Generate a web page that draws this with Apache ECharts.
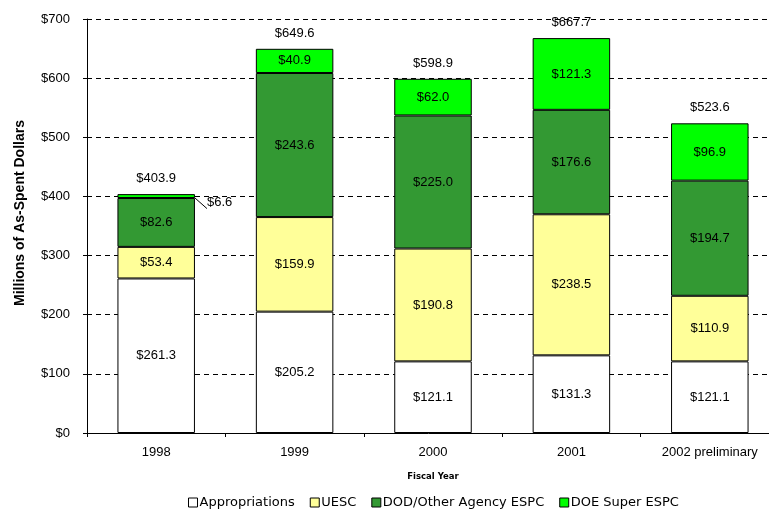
<!DOCTYPE html>
<html>
<head>
<meta charset="utf-8">
<script src="https://cdn.jsdelivr.net/npm/echarts@6/dist/echarts.min.js"></script>
<style>
  html, body { margin: 0; padding: 0; background: #fff; }
  #main { width: 769px; height: 517px; }
</style>
</head>
<body>
<div id="main"></div>
<script>
// 数据
var years = ['1998', '1999', '2000', '2001', '2002 preliminary'];
var appropriations = [261.3, 205.2, 121.1, 131.3, 121.1];
var uesc = [53.4, 159.9, 190.8, 238.5, 110.9];
var dodEspc = [82.6, 243.6, 225.0, 176.6, 194.7];
var doeSuperEspc = [6.6, 40.9, 62.0, 121.3, 96.9];
var totals = [403.9, 649.6, 598.9, 667.7, 523.6];

var font = 'Liberation Sans, Arial, sans-serif';
var wideFont = 'DejaVu Sans, Verdana, sans-serif';

function money(v) {
    return '$' + v.toFixed(1);
}

function segment(name, data, color) {
    return {
        name: name,
        type: 'bar',
        stack: 'all',
        barWidth: '56%',
        data: data,
        itemStyle: { color: color, borderColor: '#000', borderWidth: 1 },
        label: {
            show: true,
            position: 'inside',
            color: '#000',
            fontFamily: font,
            fontSize: 13,
            formatter: function (p) { return money(p.value); }
        }
    };
}

var doe = segment('DOE Super ESPC', doeSuperEspc, '#00ff00');
// 1998 的小段标签放在柱子右边
doe.data = doeSuperEspc.map(function (v, i) {
    if (i === 0) {
        return { value: v, label: { position: 'right', distance: 12, offset: [0, 6] } };
    }
    return v;
});
doe.labelLine = { show: true, length2: 0, lineStyle: { color: '#000', width: 1 } };

var myChart = echarts.init(document.getElementById('main'));
myChart.setOption({
    animation: false,
    grid: { left: 87, width: 692, top: 19, bottom: 84, outerBoundsMode: 'none', containLabel: false },
    legend: {
        bottom: 3,
        left: 183,
        data: ['Appropriations', 'UESC', 'DOD/Other Agency ESPC', 'DOE Super ESPC'],
        icon: 'rect',
        itemWidth: 9,
        itemHeight: 9,
        itemGap: 15,
        itemStyle: { borderColor: '#000', borderWidth: 1 },
        textStyle: { fontFamily: wideFont, fontSize: 13, color: '#000', padding: [0, 0, 0, -3] }
    },
    xAxis: {
        type: 'category',
        data: years,
        name: 'Fiscal Year',
        nameLocation: 'middle',
        nameGap: 39,
        nameTextStyle: { fontFamily: wideFont, fontSize: 8.5, fontWeight: 'bold', color: '#000' },
        axisLine: { lineStyle: { color: '#000', width: 1 } },
        axisTick: { show: true, length: 4, lineStyle: { color: '#000' } },
        axisLabel: { fontFamily: font, fontSize: 13, color: '#000', margin: 13 }
    },
    yAxis: {
        type: 'value',
        min: 0,
        max: 700,
        interval: 100,
        name: 'Millions of As-Spent Dollars',
        nameLocation: 'middle',
        nameGap: 60,
        nameTextStyle: { fontFamily: font, fontSize: 14, fontWeight: 'bold', color: '#000', padding: [0, 0, 0, 26] },
        axisLine: { show: true, lineStyle: { color: '#000', width: 1 } },
        axisTick: { show: true, length: 4, lineStyle: { color: '#000' } },
        axisLabel: {
            fontFamily: font, fontSize: 13, color: '#000', margin: 17,
            formatter: function (v) { return '$' + v; }
        },
        splitLine: { show: true, lineStyle: { color: '#000', type: [5, 4], width: 1 } }
    },
    series: [
        segment('Appropriations', appropriations, '#ffffff'),
        segment('UESC', uesc, '#ffff99'),
        segment('DOD/Other Agency ESPC', dodEspc, '#339933'),
        doe,
        {
            // 总数标签
            name: 'total',
            type: 'bar',
            stack: 'all',
            barWidth: '56%',
            data: totals.map(function () { return 0; }),
            itemStyle: { color: 'transparent', borderWidth: 0 },
            label: {
                show: true,
                position: 'top',
                distance: 9,
                color: '#000',
                fontFamily: font,
                fontSize: 13,
                formatter: function (p) { return money(totals[p.dataIndex]); }
            }
        }
    ]
});
</script>
</body>
</html>
